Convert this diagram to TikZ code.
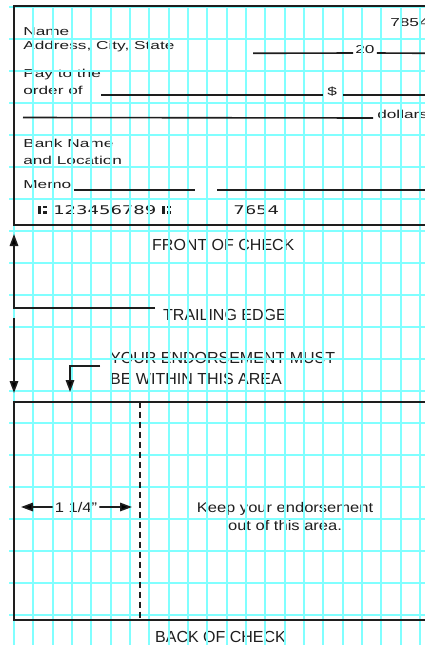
\documentclass[tikz,border=0pt]{standalone}
\usepackage{fontspec}
\setmainfont{Liberation Sans}
\newfontfamily\micrfont{DejaVu Sans}
\usetikzlibrary{arrows.meta,positioning}
\definecolor{gridc}{RGB}{128,255,255}
\definecolor{inkc}{RGB}{30,30,30}
% transit mark of the routing number (bar and two blocks)
\newcommand{\transitmark}{\tikz[baseline=0pt,x=1pt,y=1pt]{%
  \fill[inkc] (0.5,0) rectangle (2,8.5); \fill[inkc] (3.5,0) rectangle (6.5,2.8);
  \fill[inkc] (3.5,5.7) rectangle (6.5,8.5);}}

\begin{document}
\begin{tikzpicture}[x=1pt,y=-1pt,
  ink/.style={draw=inkc,line width=1.6pt},
  frame/.style={draw=inkc,line width=2pt},
  gridln/.style={draw=gridc,line width=1.8pt},
  face/.style={anchor=base west,inner sep=0pt,font=\fontsize{11.5}{12}\selectfont,xscale=1.5,text=inkc},
  micr/.style={face,font=\micrfont\fontsize{12}{12}\selectfont},
  caps/.style={anchor=base west,inner sep=0pt,font=\fontsize{16}{16}\selectfont,text=inkc},
  note/.style={anchor=base,inner sep=0pt,font=\fontsize{14}{16}\selectfont,xscale=1.18,text=inkc},
  tip/.style={-{Triangle[length=12pt,width=8.5pt]}}]
\useasboundingbox (0,0) rectangle (425,645);
\clip (0,0) rectangle (425,645);
\fill[white] (0,0) rectangle (425,645);
% ---- front of check: texts ----
\node[face] (name) at (23,35.7) {Name};
\node[face] (addr) at (23,49) {Address, City, State};
\node[face] (num)  at (390,26) {7854};
\node[face] (yr)   at (355,53) {20};
\node[face] (pay)  at (23,77) {Pay to the};
\node[face] (ord)  at (23,94) {order of};
\node[face] (dsgn) at (327,95) {\$};
\node[face] (dlr)  at (377,118) {dollars};
\node[face] (bank) at (23,147) {Bank Name};
\node[face] (loc)  at (23,164) {and Location};
\node[face] (memo) at (23,188) {Memo};
\node[micr] (route) at (38,214) {\transitmark\,\,123456789\,\,\transitmark};
\node[micr] (acct)  at (233,214) {7654};
% ---- labels between the two faces ----
\node[caps] (front) at (152,250) {FRONT OF CHECK};
\node[caps] (trail) at (163,320) {TRAILING EDGE};
\node[caps] (must)  at (110,363) {YOUR ENDORSEMENT MUST};
\node[caps] (area)  at (110,384) {BE WITHIN THIS AREA};
% ---- back of check: texts ----
\node[note] (inch) at (76,512) {1 1/4"};
\node[note] (keep) at (285,512) {Keep your endorsement};
\node[note] (keep2) at (285,530) {out of this area.};
\node[caps] (back) at (155,642) {BACK OF CHECK};
% ---- grid paper over the print ----
\foreach \k in {0,...,19}
  \draw[gridln] (9,6.7+32*\k) -- (425,6.7+32*\k);
\foreach \k in {0,...,21}
  \draw[gridln] (14+19.33*\k,6.7) -- (14+19.33*\k,645);
% ---- check outlines and fill-in lines ----
\draw[frame] (14,6) rectangle (440,225);
\draw[frame] (14,401.7) rectangle (440,620);
\draw[ink] (253,53.3) -- ([xshift=-2pt]yr.base west);
\draw[ink] ([xshift=2pt]yr.base east) -- (430,53.3);
\draw[ink] (101,95) -- (323,95);
\draw[ink] (343,95) -- (430,95);
\draw[ink] (23,117.5) -- ([xshift=-4pt]dlr.base west);
\draw[ink] ([xshift=2pt]memo.base east) ++(0,2) -- (195,190);
\draw[ink] (217,190) -- (430,190);
\draw[frame,dash pattern=on 6pt off 4pt] (140,401.7) -- (140,620);
% ---- edge arrows ----
\coordinate (tcorner) at (14,308);
\coordinate (frontedge) at (14,234);
\coordinate (backedge) at (14,393);
\coordinate (mustbend) at (100,366);
\coordinate (mustend) at (70,392);
\draw[ink,tip] ([xshift=-8pt]trail.west |- tcorner) -- (tcorner) -- (frontedge);
\draw[ink,tip] (14,318) -- (backedge);
\draw[ink,tip] (mustbend) -| (mustend);
% ---- 1 1/4 inch span ----
\coordinate (spanl) at (21,507);
\coordinate (spanr) at (132,507);
\draw[ink,tip] ([xshift=-2pt]inch.west) -- (spanl);
\draw[ink,tip] ([xshift=2pt]inch.east) -- (spanr);
\end{tikzpicture}
\end{document}
